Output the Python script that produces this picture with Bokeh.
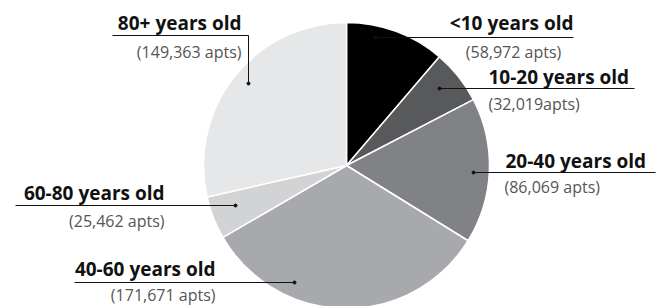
import numpy as np
from bokeh.plotting import figure
from bokeh.models import ColumnDataSource, Range1d
from bokeh.core.properties import value
from bokeh.embed import file_html
from bokeh.resources import INLINE

# ---- data ----
categories = ["<10 years old", "10-20 years old", "20-40 years old",
              "40-60 years old", "60-80 years old", "80+ years old"]
apts = [58972, 32019, 86069, 171671, 25462, 149363]
apt_labels = ["(58,972 apts)", "(32,019apts)", "(86,069 apts)",
              "(171,671 apts)", "(25,462 apts)", "(149,363 apts)"]
colors = ["#000000", "#58595b", "#808285", "#a7a9ac", "#d1d3d4", "#e6e7e8"]

W, H = 672, 306
def px(x, y):
    return x, H - y

p = figure(width=W, height=H, output_backend="svg", toolbar_location=None,
           x_range=Range1d(0, W), y_range=Range1d(0, H), min_border=0)
p.axis.visible = False
p.grid.visible = False
p.outline_line_color = None
p.background_fill_color = "white"

vals = np.array(apts, dtype=float)
frac = vals / vals.sum()
ends = np.cumsum(frac)
starts = ends - frac
start_angle = np.pi / 2 - starts * 2 * np.pi
end_angle = np.pi / 2 - ends * 2 * np.pi

cx, cy = px(346, 165)
src = ColumnDataSource(dict(start=start_angle, end=end_angle, color=colors,
                            x=[cx] * 6, y=[cy] * 6))
p.wedge(x="x", y="y", radius=143, start_angle="start", end_angle="end",
        direction="clock", fill_color="color", line_color="white",
        line_width=1.5, source=src)

# ---- labels (pixel layout) ----
layout = [
    dict(t=(573, 22, "right"), line=[(375, 37), (573, 37)], dot=(375, 37), s=(513, 51, "center")),
    dict(t=(488, 76, "left"), line=[(439, 88), (634, 88)], dot=(439, 88), s=(488, 103, "left")),
    dict(t=(505, 160, "left"), line=[(473, 172), (655, 172)], dot=(473, 172), s=(504, 186, "left")),
    dict(t=(215, 268, "right"), line=[(74, 282), (294, 282)], dot=(294, 282), s=(215, 294, "right")),
    dict(t=(164, 192, "right"), line=[(15, 205), (235, 205)], dot=(235, 205), s=(164, 220, "right")),
    dict(t=(241, 22, "right"), line=[(112, 35), (248, 35), (248, 83)], dot=(248, 83), s=(241, 51, "right")),
]

for cat, lab, L in zip(categories, apt_labels, layout):
    tx, ty = px(L["t"][0], L["t"][1])
    p.text(x=[tx], y=[ty], text=[cat], text_font=value("Open Sans"),
           text_font_style="bold", text_font_size="19px", text_color="#111111",
           text_align=L["t"][2], text_baseline="middle")
    sx, sy = px(L["s"][0], L["s"][1])
    p.text(x=[sx], y=[sy], text=[lab], text_font=value("Open Sans"),
           text_font_size="16px", text_color="#555555",
           text_align=L["s"][2], text_baseline="middle")
    xs = [px(a, b)[0] for a, b in L["line"]]
    ys = [px(a, b)[1] for a, b in L["line"]]
    p.line(xs, ys, line_color="#111111", line_width=1)
    dx, dy = px(*L["dot"])
    p.scatter([dx], [dy], size=3, color="#111111")

open("out.html", "w").write(file_html(p, INLINE))
